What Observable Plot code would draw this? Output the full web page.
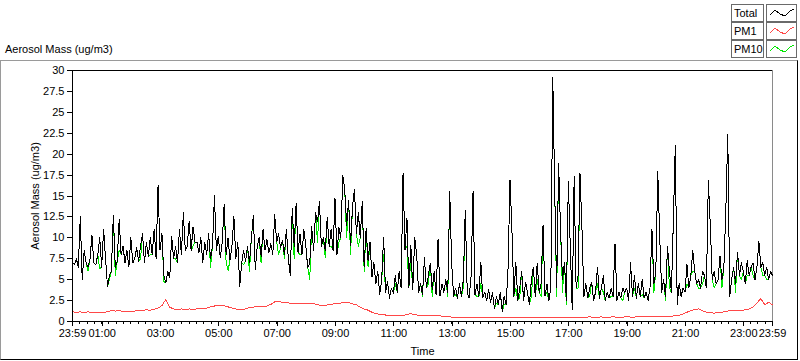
<!DOCTYPE html>
<html><head><meta charset="utf-8">
<script src="https://cdn.jsdelivr.net/npm/d3@7"></script>
<script src="https://cdn.jsdelivr.net/npm/@observablehq/plot@0.6"></script>
<style>
body{margin:0;background:#fff;font-family:"Liberation Sans",Arial,sans-serif;}
#wrap{position:relative;width:800px;height:361px;overflow:hidden;background:#fff;}
#chart{position:absolute;left:0;top:0;}
#frame{position:absolute;left:0;top:60px;width:796px;height:298px;border-top:1px solid #9a9a9a;border-left:1px solid #9a9a9a;border-right:1px solid #000;border-bottom:1px solid #000;pointer-events:none;}
#title{position:absolute;left:5px;top:43px;font-size:11px;color:#000;}
.lg{position:absolute;height:16px;border:1px solid #6a6a6a;background:#fff;font-size:11px;line-height:16px;box-sizing:content-box;}
.lg span{padding-left:2px;}
.lg svg{position:absolute;left:0;top:0;}
</style></head>
<body><div id="wrap"><div id="chart"></div><div id="frame"></div><div id="title">Aerosol Mass (ug/m3)</div><div id="legend"></div></div>
<script>
// Series values (Total and PM10 every 4 minutes, PM1 every 8 minutes) starting 23:59
const startLabel = "23:59";
const stepTotalMin = 4;
const stepPM1Min = 8;
const total = [
7.0,6.8,7.5,6.5,12.5,5.0,8.5,7.0,
6.5,7.5,10.3,7.0,6.8,8.0,10.0,6.5,
11.0,7.5,4.2,5.5,6.0,12.7,6.5,7.2,
12.2,8.0,9.0,7.0,8.5,6.5,10.0,7.0,
7.5,8.8,7.2,9.0,10.5,7.0,9.5,7.8,
10.0,8.0,11.0,7.5,16.3,8.5,10.5,5.5,
4.6,6.0,5.2,10.2,7.5,9.0,7.0,11.0,
8.0,13.0,8.5,9.0,12.0,8.5,11.3,9.5,
9.5,8.2,10.0,7.0,9.5,8.0,10.5,7.5,
9.0,15.1,8.5,10.2,7.6,9.5,14.0,8.0,
10.0,7.3,9.0,12.6,7.5,9.5,4.2,7.0,
8.5,7.2,9.0,7.0,10.0,12.7,6.2,9.0,
10.0,7.8,11.0,8.5,9.8,8.2,9.3,8.0,
12.8,9.5,10.5,8.8,9.7,8.0,11.0,7.5,
5.5,13.5,9.0,14.1,8.2,10.5,8.0,11.0,
9.0,6.4,7.0,11.3,8.5,13.0,11.9,14.3,
9.0,10.0,8.5,12.4,9.0,11.0,8.5,14.7,
8.0,11.2,10.0,17.4,15.8,11.5,14.5,9.1,
13.7,15.8,10.5,13.0,10.0,14.3,6.5,11.1,
7.3,9.5,5.3,7.1,4.5,6.0,3.2,5.0,
10.1,3.5,4.8,2.8,4.0,3.4,5.5,3.5,
6.0,4.0,17.7,8.5,12.4,4.0,9.1,3.8,
10.1,8.0,3.5,4.5,3.2,7.6,4.0,5.5,
7.0,3.8,6.0,3.2,9.9,3.0,4.5,3.5,
5.0,3.5,15.5,7.0,3.0,4.0,2.8,4.5,
3.0,5.0,13.3,3.5,2.8,5.5,15.6,3.2,
4.5,3.0,7.1,2.8,3.5,2.5,3.8,2.3,
3.5,1.5,3.0,2.0,3.5,1.2,3.0,2.0,
6.4,16.9,10.9,3.0,7.1,2.5,4.0,6.0,
2.5,4.7,3.5,2.0,5.0,6.5,3.0,7.0,
3.5,4.5,11.5,3.0,4.5,2.5,4.0,29.2,
15.6,4.0,18.9,10.9,5.0,7.1,2.5,16.7,
9.0,1.4,17.3,4.0,5.5,17.7,11.2,3.0,
4.5,2.8,4.0,4.7,2.5,3.5,6.5,2.8,
4.0,5.5,2.5,3.5,2.8,4.0,3.0,9.3,
2.5,3.5,2.8,4.0,3.5,4.0,2.5,7.0,
3.0,5.5,2.8,4.5,3.0,5.0,2.8,3.5,
2.5,4.0,11.0,4.5,6.0,17.9,10.2,3.5,
5.0,3.0,9.0,6.0,3.5,11.9,21.0,2.0,
4.5,3.0,4.0,3.5,6.8,4.0,5.5,8.5,
6.0,4.5,5.0,4.0,6.0,5.5,4.0,16.8,
11.6,5.0,6.0,4.5,5.0,7.8,5.0,6.5,
13.4,22.4,3.0,5.0,6.5,4.5,8.3,5.5,
7.0,6.0,4.5,7.3,5.5,6.5,7.0,5.0,
6.5,9.6,6.5,7.0,5.5,6.5,5.0,6.0,5.5
];
const pm10 = [
7.0,6.8,7.5,6.5,12.5,5.0,8.5,7.0,
6.0,7.5,10.3,7.0,6.8,8.0,6.3,6.5,
11.0,7.5,4.2,5.0,6.0,12.7,5.5,7.2,
8.5,8.0,9.0,7.0,8.5,6.5,10.0,7.0,
7.5,8.8,7.2,7.5,10.5,7.0,9.5,7.8,
8.0,8.0,11.0,7.5,16.3,8.5,10.5,4.8,
4.6,6.0,5.2,10.2,7.5,7.5,7.0,11.0,
8.0,13.0,8.5,9.0,12.0,8.5,9.0,9.5,
9.5,8.2,10.0,7.0,9.5,8.0,10.5,6.5,
9.0,15.1,8.5,10.2,7.6,9.5,14.0,7.0,
6.1,7.3,9.0,12.6,7.5,9.5,4.2,7.0,
6.8,7.2,9.0,6.0,10.0,12.7,6.2,9.0,
10.0,7.0,11.0,8.5,9.8,8.2,9.3,8.0,
12.8,9.5,8.0,8.8,9.7,7.5,11.0,7.5,
5.5,13.5,7.5,14.1,8.2,8.0,8.0,11.0,
9.0,6.4,5.0,11.3,8.5,13.0,9.5,14.3,
9.0,10.0,7.6,12.4,9.0,9.0,8.5,14.7,
8.0,9.5,10.0,17.4,15.8,10.0,14.5,8.0,
13.7,15.8,10.5,9.0,10.0,14.3,6.0,11.1,
6.5,9.5,5.3,7.1,4.5,6.0,3.2,5.0,
8.0,3.5,4.8,2.8,4.0,3.4,4.5,3.5,
6.0,4.0,17.7,8.5,9.0,4.0,7.5,3.8,
10.1,8.0,3.5,4.5,3.0,7.6,4.0,4.5,
7.0,3.0,6.0,3.2,9.9,3.0,4.5,3.5,
5.0,3.0,15.5,7.0,3.0,3.2,2.8,4.5,
3.0,4.0,13.3,3.5,2.8,5.5,15.6,3.2,
3.0,3.0,4.5,2.8,3.5,2.5,3.8,2.3,
3.5,1.5,2.2,2.0,3.5,1.2,2.0,2.0,
6.4,16.9,10.9,3.0,4.0,2.5,2.8,6.0,
2.5,4.7,3.5,2.0,3.0,6.5,3.0,5.0,
3.5,3.0,11.5,3.0,3.5,2.5,4.0,29.2,
15.6,3.0,18.9,10.9,3.5,7.1,2.0,16.7,
9.0,1.4,17.3,4.0,4.0,17.7,11.2,3.0,
4.5,2.8,3.0,4.7,2.5,3.5,4.5,2.8,
4.0,3.5,2.5,3.5,2.8,3.0,3.0,9.3,
2.5,3.5,2.8,2.5,3.5,4.0,2.5,7.0,
3.0,4.0,2.8,4.5,3.0,3.2,2.8,3.5,
2.5,4.0,11.0,3.5,6.0,17.9,10.2,3.5,
5.0,2.5,9.0,4.0,3.5,11.9,21.0,2.0,
4.5,3.0,4.0,3.5,4.5,4.0,5.5,6.0,
6.0,4.5,4.0,4.0,4.5,5.5,4.0,16.8,
11.6,5.0,4.0,4.5,5.0,7.8,4.0,6.5,
13.4,22.4,3.0,5.0,6.5,3.5,8.3,5.5,
5.0,6.0,4.5,5.5,5.5,6.5,5.5,5.0,
6.5,9.6,6.5,5.5,5.5,5.0,5.0,6.0,5.5
];
const pm1 = [
1.15,1.1,1.15,1.1,1.15,1.1,1.05,1.1,1.1,1.15,
1.3,1.25,1.3,1.2,1.25,1.2,1.25,1.35,1.3,1.4,
1.35,1.45,1.6,1.9,2.65,1.7,1.5,1.45,1.5,1.45,
1.5,1.45,1.5,1.55,1.5,1.7,1.8,1.9,1.95,1.9,
1.75,1.6,1.5,1.4,1.45,1.6,1.7,1.75,1.75,1.8,
1.85,2.05,2.35,2.4,2.3,2.25,2.2,2.2,2.15,2.2,
2.15,2.2,2.15,2.0,1.9,1.95,2.0,2.1,2.15,2.2,
2.3,2.25,2.1,2.0,1.7,1.5,1.35,1.1,0.95,0.85,
0.8,0.75,0.75,0.7,0.75,0.75,0.8,0.95,0.8,0.75,
0.75,0.75,0.7,0.72,0.7,0.65,0.6,0.55,0.5,0.48,
0.45,0.45,0.48,0.45,0.42,0.45,0.45,0.42,0.45,0.5,
0.48,0.5,0.48,0.45,0.5,0.5,0.45,0.48,0.5,0.5,
0.45,0.5,0.5,0.48,0.5,0.52,0.5,0.48,0.5,0.5,
0.52,0.5,0.52,0.55,0.5,0.52,0.55,0.5,0.52,0.55,
0.52,0.5,0.55,0.55,0.5,0.55,0.6,0.55,0.58,0.6,
0.58,0.62,0.6,0.65,0.62,0.7,0.75,0.9,1.1,1.3,
1.45,1.5,1.3,1.1,1.05,1.0,1.05,1.1,1.2,1.3,
1.3,1.3,1.3,1.4,1.5,1.75,2.2,2.75,2.0,2.3,
2.0
];
const xTickLabels = ["23:59","01:00","03:00","05:00","07:00","09:00","11:00","13:00","15:00","17:00","19:00","21:00","23:00","23:59"];
const yTicks = [0,2.5,5,7.5,10,12.5,15,17.5,20,22.5,25,27.5,30];
const seriesNames = ["Total","PM1","PM10"];
const seriesColors = ["#000000","#ff4848","#00e600"];

const MIN = 60000;
const [sh, sm] = startLabel.split(":").map(Number);
const t0 = new Date(2020, 0, 1, sh, sm);
const t1 = new Date(+t0 + 1440 * MIN);
const rows = (arr, step) => arr.map((v, i) => ({t: new Date(+t0 + i * step * MIN), v}));
const totalRows = rows(total, stepTotalMin);
const pm10Rows = rows(pm10, stepTotalMin);
const pm1Rows = rows(pm1, stepPM1Min);
const majorDates = xTickLabels.map((s, i) => {
  if (i === 0) return t0;
  if (i === xTickLabels.length - 1) return t1;
  const [h, m] = s.split(":").map(Number);
  return new Date(2020, 0, 2, h, m);
});
const minorDates = d3.range(0, 97).map(k => new Date(+t0 + k * 15 * MIN));

const chart = Plot.plot({
  width: 800, height: 361,
  marginLeft: 72, marginRight: 28, marginTop: 70, marginBottom: 40,
  style: {fontFamily: "'Liberation Sans', Arial, sans-serif", fontSize: "11px", color: "#000", background: "transparent", overflow: "visible"},
  x: {type: "time", domain: [t0, t1]},
  y: {domain: [0, 30]},
  marks: [
    Plot.ruleY([30], {stroke: "#000", shapeRendering: "crispEdges"}),
    Plot.ruleX([t1], {stroke: "#8a8a8a", shapeRendering: "crispEdges"}),
    Plot.line(pm1Rows, {x: "t", y: "v", stroke: seriesColors[1], strokeWidth: 1, shapeRendering: "crispEdges"}),
    Plot.line(pm10Rows, {x: "t", y: "v", stroke: seriesColors[2], strokeWidth: 1, shapeRendering: "crispEdges"}),
    Plot.line(totalRows, {x: "t", y: "v", stroke: seriesColors[0], strokeWidth: 1, shapeRendering: "crispEdges"}),
    Plot.ruleX([t0], {stroke: "#000", shapeRendering: "crispEdges"}),
    Plot.ruleY([0], {stroke: "#000", shapeRendering: "crispEdges"}),
    Plot.axisY({ticks: yTicks, tickSize: 5, tickPadding: 3, tickFormat: d => String(d), label: "Aerosol Mass (ug/m3)", labelAnchor: "center", labelArrow: "none", labelOffset: 41, shapeRendering: "crispEdges"}),
    Plot.axisX({ticks: minorDates, tickSize: 3, tickFormat: () => "", label: null, shapeRendering: "crispEdges"}),
    Plot.axisX({ticks: majorDates, tickSize: 5, tickPadding: 3, tickFormat: (d, i) => xTickLabels[i], label: "Time", labelAnchor: "center", labelArrow: "none", labelOffset: 33, shapeRendering: "crispEdges"})
  ]
});
document.getElementById("chart").appendChild(chart);

// legend
const wrap = document.getElementById("wrap");
seriesNames.forEach((name, i) => {
  const top = 4 + i * 18;
  const a = document.createElement("div");
  a.className = "lg";
  a.style.left = "731px"; a.style.top = top + "px"; a.style.width = "31px";
  a.innerHTML = `<span>${name}</span>`;
  wrap.appendChild(a);
  const b = document.createElement("div");
  b.className = "lg";
  b.style.left = "766px"; b.style.top = top + "px"; b.style.width = "29px";
  b.innerHTML = `<svg width="29" height="16"><polyline points="3,10 8,5 13,9 18,11 23,6 27,4" fill="none" stroke="${seriesColors[i]}" stroke-width="1" shape-rendering="crispEdges"/></svg>`;
  wrap.appendChild(b);
});
</script>
</body></html>
